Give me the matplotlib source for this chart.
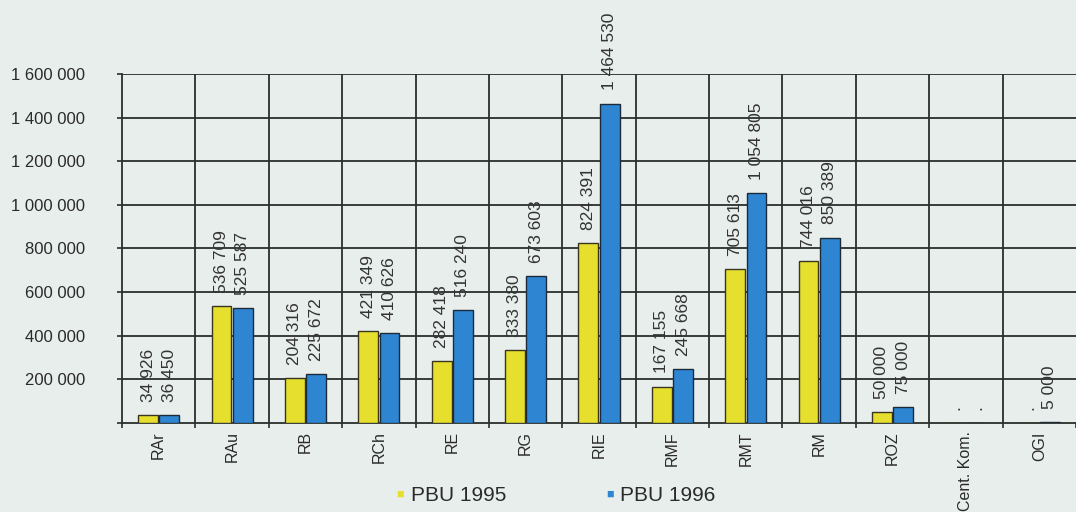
import matplotlib
matplotlib.use("Agg")
import matplotlib.pyplot as plt
import numpy as np

categories = ["RAr", "RAu", "RB", "RCh", "RE", "RG", "RIE", "RMF", "RMT", "RM", "ROZ", "Cent. Kom.", "OGI"]
pbu_1995 = [34926, 536709, 204316, 421349, 282418, 333380, 824391, 167155, 705613, 744016, 50000, 0, 0]
pbu_1996 = [36450, 525587, 225672, 410626, 516240, 673603, 1464530, 245668, 1054805, 850389, 75000, 0, 5000]
labels_1995 = ["34 926", "536 709", "204 316", "421 349", "282 418", "333 380", "824 391", "167 155", "705 613", "744 016", "50 000", ".", "."]
labels_1996 = ["36 450", "525 587", "225 672", "410 626", "516 240", "673 603", "1 464 530", "245 668", "1 054 805", "850 389", "75 000", ".", "5 000"]
yticks = [200000, 400000, 600000, 800000, 1000000, 1200000, 1400000, 1600000]
ytick_labels = ["200 000", "400 000", "600 000", "800 000", "1 000 000", "1 200 000", "1 400 000", "1 600 000"]

plt.rcParams["font.family"] = ["Liberation Sans", "DejaVu Sans"]

bg = "#e8eeeb"
c95 = "#e6df2e"
c96 = "#2e86d2"
grid_c = "#2b2f2c"
txt_c = "#2a2a2a"

fig = plt.figure(figsize=(10.76, 5.12), dpi=100, facecolor=bg)
ax = fig.add_axes([0.1134, 0.1738, 0.8866, 0.6817])
ax.set_facecolor(bg)

x = np.arange(len(categories))
w = 0.27
gap = 0.02
ax.bar(x - w / 2 - gap / 2, pbu_1995, width=w, color=c95, edgecolor="#3a3520", linewidth=1.0, zorder=3)
ax.bar(x + w / 2 + gap / 2, pbu_1996, width=w, color=c96, edgecolor="#1d2a3a", linewidth=1.0, zorder=3)

ax.set_xlim(-0.5, len(categories) - 0.5)
ax.set_ylim(0, 1600000)

# grid
for yv in yticks:
    ax.axhline(yv, color=grid_c, linewidth=1.3, zorder=1)
for xb in np.arange(0.5, len(categories) - 0.5, 1):
    ax.axvline(xb, color=grid_c, linewidth=1.3, zorder=1)

for s in ["top", "right"]:
    ax.spines[s].set_visible(False)
ax.spines["left"].set_color(grid_c)
ax.spines["left"].set_linewidth(1.3)
ax.spines["bottom"].set_color(grid_c)
ax.spines["bottom"].set_linewidth(1.3)

ax.set_yticks([0] + yticks)
ax.set_yticklabels([""] + ytick_labels, fontsize=12, color=txt_c)
ax.tick_params(axis="y", length=3.5, width=1.2, color=grid_c, pad=23)

ax.set_xticks(np.arange(-0.5, len(categories), 1), minor=False)
ax.set_xticklabels([])
ax.tick_params(axis="x", length=3.5, width=1.2, color=grid_c)
ax.set_xticks(x, minor=True)
ax.set_xticklabels(categories, minor=True, rotation=90, fontsize=11.5, color=txt_c)
ax.tick_params(axis="x", which="minor", length=0, pad=6)

off = 60000
for i in range(len(categories)):
    ax.text(x[i] - w / 2 - gap / 2, pbu_1995[i] + off, labels_1995[i], rotation=90,
            ha="center", va="bottom", fontsize=12.5, color="#333333", zorder=4, clip_on=False)
    ax.text(x[i] + w / 2 + gap / 2, pbu_1996[i] + off, labels_1996[i], rotation=90,
            ha="center", va="bottom", fontsize=12.5, color="#333333", zorder=4, clip_on=False)

# legend
fig.text(0.372, 0.033, "■", color=c95, fontsize=9, ha="center", va="center")
fig.text(0.382, 0.033, "PBU 1995", color=txt_c, fontsize=15, ha="left", va="center")
fig.text(0.567, 0.033, "■", color=c96, fontsize=9, ha="center", va="center")
fig.text(0.576, 0.033, "PBU 1996", color=txt_c, fontsize=15, ha="left", va="center")

fig.savefig("out.png", dpi=100, facecolor=bg)
